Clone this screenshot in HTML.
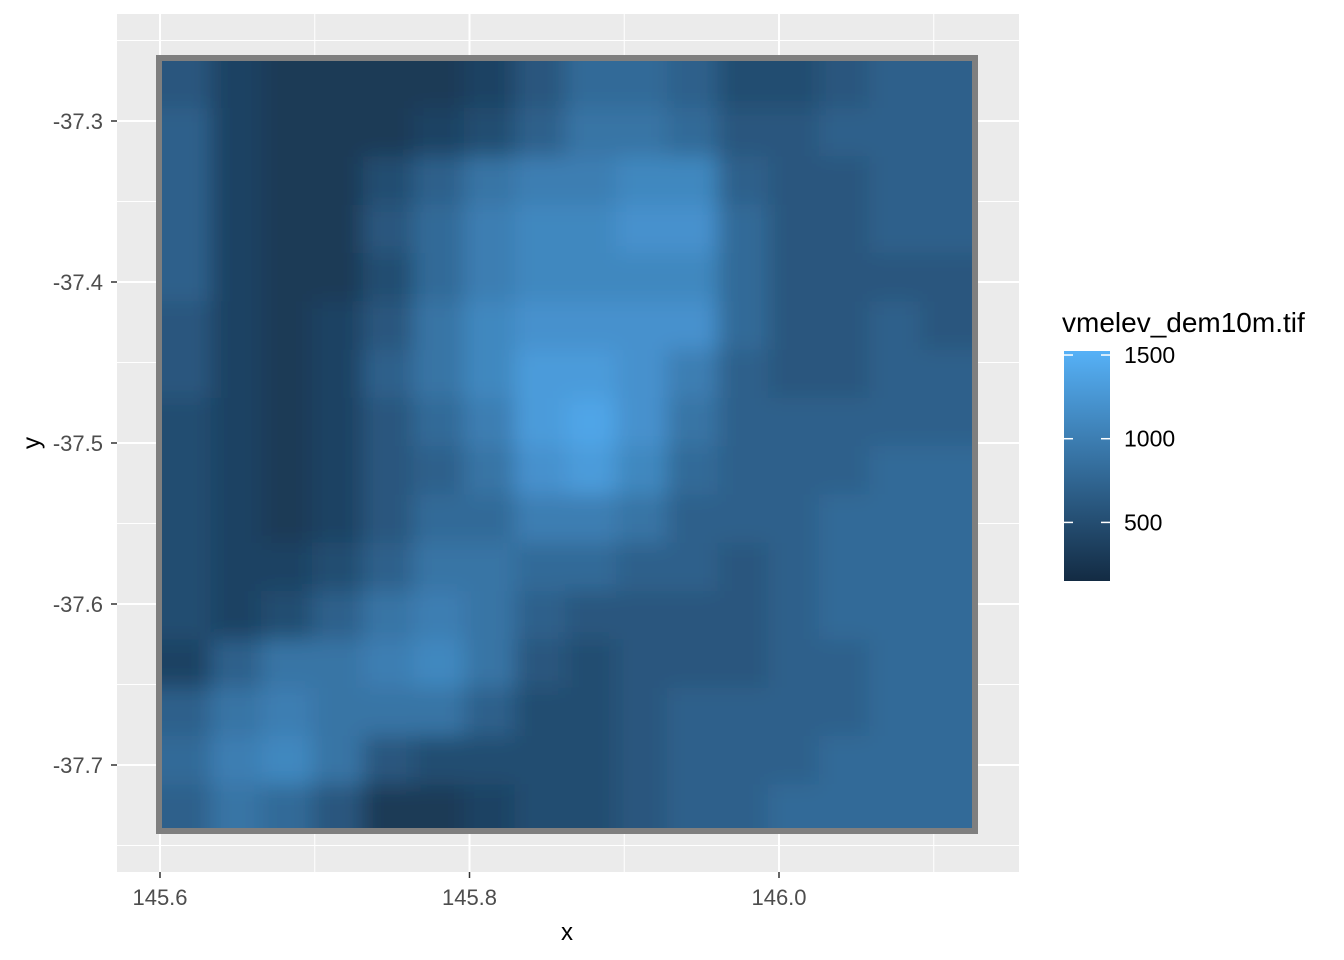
<!DOCTYPE html>
<html><head><meta charset="utf-8"><style>
body{margin:0;background:#fff;}
svg{display:block;font-family:"Liberation Sans",Arial,sans-serif;}
</style></head><body>
<svg id="chart" width="1344" height="960">
<defs>
<clipPath id="rclip"><rect x="160" y="59" width="812" height="773"/></clipPath>
<filter id="blur" x="-5%" y="-5%" width="110%" height="110%"><feGaussianBlur stdDeviation="11"/></filter>
<linearGradient id="lg" x1="0" y1="1" x2="0" y2="0">
<stop offset="0" stop-color="#132B43"/><stop offset="1" stop-color="#56B1F7"/></linearGradient>
</defs>
<rect x="117" y="14" width="902" height="858" fill="#EBEBEB"/>
<g id="grid"></g>
<g clip-path="url(#rclip)"><g id="cells" filter="url(#blur)"></g></g>
<rect x="159" y="58" width="816" height="773" fill="none" stroke="#7F7F7F" stroke-width="6"/>
<g id="axes"></g>
<text x="567" y="940" font-size="24" text-anchor="middle" fill="#000">x</text>
<text x="33" y="443" font-size="24" text-anchor="middle" fill="#000" transform="rotate(-90 33 443)" dominant-baseline="middle">y</text>
<text x="1062" y="332" font-size="28" fill="#000">vmelev_dem10m.tif</text>
<rect x="1064" y="351" width="46" height="230" fill="url(#lg)"/>
<g id="legend"></g>
</svg>
<script>
const xTicks=[145.6,145.8,146.0];
const yTicks=[-37.3,-37.4,-37.5,-37.6,-37.7];
const legendTicks=[500,1000,1500];
const xMin=145.6,xMax=146.124,yTop=-37.262,yBot=-37.742;
const elev=[
[6,4,3,3,3,3,4,6,8,8,7,5,5,6,7,7],
[7,4,3,3,3,4,5,7,9,9,8,6,6,7,7,7],
[7,4,3,3,5,7,9,10,10,11,11,7,6,6,7,7],
[7,4,3,3,6,8,10,11,11,12,12,8,6,6,7,7],
[7,4,3,3,5,8,10,11,11,11,11,8,6,6,6,6],
[6,4,3,4,6,9,11,12,12,12,12,8,6,6,7,6],
[6,4,3,4,7,9,11,13,13,12,10,7,6,6,7,7],
[5,4,3,4,6,8,10,13,14,12,9,7,7,7,7,7],
[5,4,3,4,6,7,9,12,13,11,8,7,7,7,8,8],
[5,4,3,4,6,8,8,10,10,9,7,7,7,8,8,8],
[5,4,4,5,7,9,9,8,8,7,7,6,7,8,8,8],
[5,4,5,7,9,10,9,7,6,6,6,6,7,8,8,8],
[4,7,9,9,10,11,9,6,5,6,6,6,7,7,8,8],
[7,9,10,9,9,9,7,5,5,6,7,7,7,7,8,8],
[8,10,11,9,6,5,5,5,5,6,7,7,7,8,8,8],
[7,9,8,6,3,3,4,5,5,6,7,7,8,8,8,8]
];
const ns="http://www.w3.org/2000/svg";
const X=v=>160+(v-145.6)/0.2*309.5;
const Y=v=>121+(-37.3-v)/0.1*161;
const cMin=150,cMax=1524;
const L=v=>581-(v-cMin)/(cMax-cMin)*230;
function col(v){let t=Math.max(0,Math.min(1,(v-cMin)/(cMax-cMin)));
const a=[0x13,0x2B,0x43],b=[0x56,0xB1,0xF7];
return `rgb(${a.map((c,i)=>Math.round(c+(b[i]-c)*t)).join(',')})`;}
function mk(tag,attrs,parent){const e=document.createElementNS(ns,tag);for(const k in attrs)e.setAttribute(k,attrs[k]);parent.appendChild(e);return e;}
const grid=document.getElementById('grid');
[145.7,145.9,146.1].forEach(v=>{const l=mk('line',{x1:X(v),x2:X(v),y1:14,y2:872,stroke:'#fff','stroke-width':1},grid);

});
[-37.25,-37.35,-37.45,-37.55,-37.65,-37.75].forEach(v=>{const l=mk('line',{x1:117,x2:1019,y1:Y(v),y2:Y(v),stroke:'#fff','stroke-width':1},grid);

});
xTicks.forEach(v=>{const l=mk('line',{x1:X(v),x2:X(v),y1:14,y2:872,stroke:'#fff','stroke-width':2},grid);

});
yTicks.forEach(v=>{const l=mk('line',{x1:117,x2:1019,y1:Y(v),y2:Y(v),stroke:'#fff','stroke-width':2},grid);

});
const cells=document.getElementById('cells');
const rows=elev.length,cols=elev[0].length;
const x0=X(xMin),x1=X(xMax),y0=Y(yTop),y1=Y(yBot);
const cw=(x1-x0)/cols,ch=(y1-y0)/rows;
elev.forEach((r,i)=>r.forEach((v,j)=>{
let x=x0+j*cw,y=y0+i*ch,w=cw+0.5,h=ch+0.5;
if(j===0){x-=30;w+=30;} if(j===cols-1)w+=30;
if(i===0){y-=30;h+=30;} if(i===rows-1)h+=30;
const c=mk('rect',{x:x,y:y,width:w,height:h,fill:col(v*100)},cells);

}));
const axes=document.getElementById('axes');
xTicks.forEach(v=>{const t=mk('line',{x1:X(v),x2:X(v),y1:872,y2:878,stroke:'#333','stroke-width':1.5},axes);


const s=mk('text',{x:X(v),y:905,'font-size':22,'text-anchor':'middle',fill:'#4D4D4D'},axes);s.textContent=v.toFixed(1);

});
yTicks.forEach(v=>{const t=mk('line',{x1:111,x2:117,y1:Y(v),y2:Y(v),stroke:'#333','stroke-width':1.5},axes);


const s=mk('text',{x:103,y:Y(v)+8,'font-size':22,'text-anchor':'end',fill:'#4D4D4D'},axes);s.textContent=v.toFixed(1);

});
const lg=document.getElementById('legend');
legendTicks.forEach(v=>{const y=L(v);
[[1064,1073],[1101,1110]].forEach(p=>{const t=mk('line',{x1:p[0],x2:p[1],y1:y,y2:y,stroke:'#fff','stroke-width':1.5},lg);

});
const s=mk('text',{x:1124,y:y+8,'font-size':23,fill:'#000'},lg);s.textContent=v;

});
</script>
</body></html>
